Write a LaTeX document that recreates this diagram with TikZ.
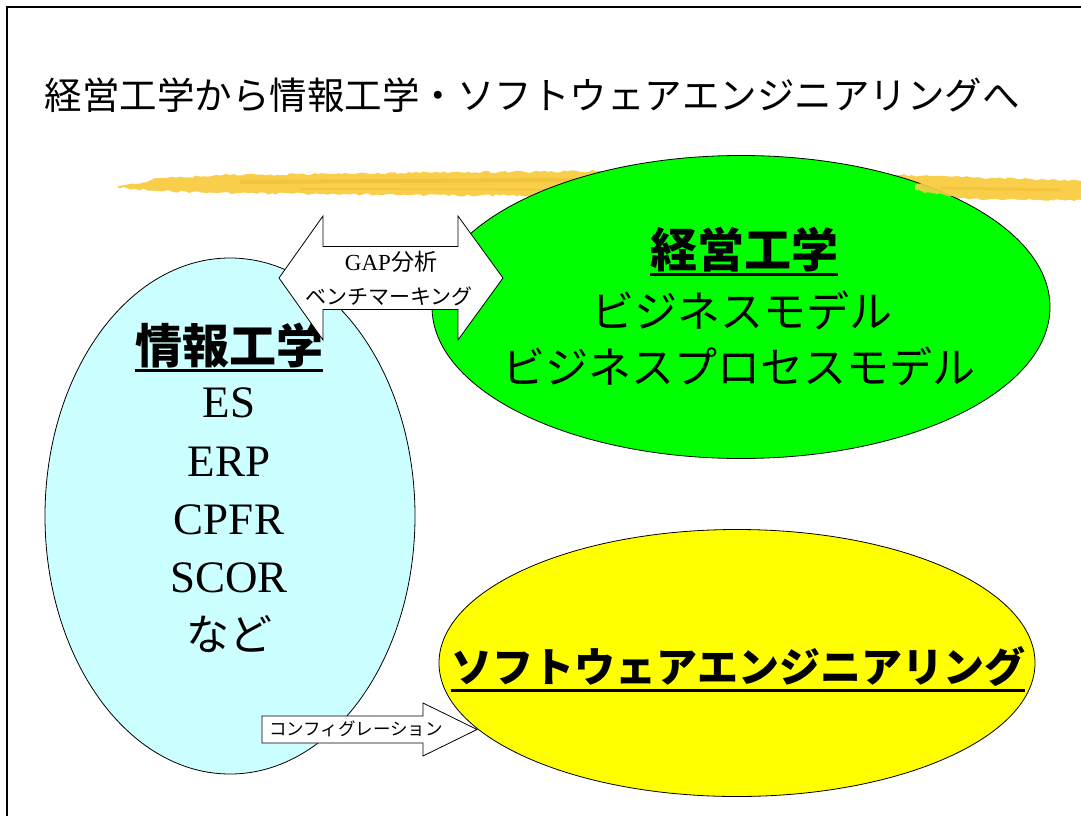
\documentclass[tikz,border=0pt]{standalone}
\usepackage{fontspec}
\setmainfont{Liberation Serif}
\newfontfamily\jp{Noto Sans CJK JP}
\usetikzlibrary{shapes.geometric,decorations.pathmorphing}

\definecolor{johocyan}{RGB}{204,255,255}
\definecolor{keieigreen}{RGB}{0,255,0}
\definecolor{softyellow}{RGB}{255,255,0}
\definecolor{brush}{RGB}{248,206,74}
\definecolor{brushdark}{RGB}{238,184,40}

\begin{document}
\begin{tikzpicture}[x=1pt,y=-1pt,
    blob/.style={ellipse,draw=black,line width=0.8pt,inner sep=0pt},
    blockarrow/.style={draw=black,fill=white,line width=0.8pt,line join=miter},
    rough/.style={decorate,decoration={random steps,segment length=4pt,amplitude=1.2pt}},
    uline/.style={line width=3pt},
    jp/.style={inner sep=0pt,font=\jp\fontsize{#1}{#1}\selectfont},
    jpb/.style={inner sep=0pt,font=\jp\bfseries\fontsize{#1}{#1}\selectfont},
    rm/.style={inner sep=0pt,font=\fontsize{#1}{#1}\selectfont}]

    \useasboundingbox (0,0) rectangle (1081,816);

    % slide frame, only top and left edges are visible
    \draw[line width=2pt] (7,816) -- (7,7) -- (1081,7);

    % Title
    \node[jp=37.5] (title) at (532,95) {経営工学から情報工学・ソフトウェアエンジニアリングへ};

    % brush stroke
    \fill[brush,rough] (117,187) -- (135,184) -- (160,178) -- (230,175) -- (400,173)
        -- (600,171) -- (800,173) -- (930,176) -- (1081,181) -- (1081,200) -- (930,198)
        -- (800,197) -- (600,196) -- (400,195) -- (230,193) -- (160,191) -- (135,189) -- cycle;
    \draw[brushdark,line width=4pt,opacity=0.45] (240,182) -- (560,180) -- (900,186);
    \draw[brushdark,line width=2pt,opacity=0.35] (300,189) -- (700,190);

    % the three fields
    \node[blob,fill=johocyan,minimum width=370,minimum height=516] (johoarea) at (230,516) {};
    \node[blob,fill=keieigreen,minimum width=618,minimum height=303] (keieiarea) at (741,307) {};
    \node[blob,fill=softyellow,minimum width=596,minimum height=267] (softarea) at (737,663) {};

    % tail of the stroke runs over the green field
    \fill[brush,rough,opacity=0.9] (915,185) -- (960,177) -- (1081,181) -- (1081,200)
        -- (960,198) -- (915,190) -- cycle;
    \draw[brushdark,line width=3pt,opacity=0.4] (940,188) -- (1060,190);

    % 経営工学
    \node[jpb=47] (keiei) at (744,250) {経営工学};
    \draw[uline] (keiei.west |- 0,274) -- (keiei.east |- 0,274);
    \node[jp=43] (bm) at (742,310) {ビジネスモデル};
    \node[jp=43] (bpm) at (739,366) {ビジネスプロセスモデル};

    % 情報工学
    \node[jpb=47] (joho) at (229,346) {情報工学};
    \draw[uline] (joho.west |- 0,370) -- (joho.east |- 0,370);
    \node[rm=45] (es) at (229,403) {ES};
    \node[rm=45] (erp) at (229,462) {ERP};
    \node[rm=45] (cpfr) at (229,520) {CPFR};
    \node[rm=45] (scor) at (229,578) {SCOR};
    \node[jp=43] (nado) at (229,634) {など};

    % ソフトウェアエンジニアリング
    \node[jpb=41] (soft) at (738,667) {ソフトウェアエンジニアリング};
    \draw[uline] (soft.west |- 0,690) -- (soft.east |- 0,690);

    % GAP double arrow between 情報工学 and 経営工学
    \draw[blockarrow] (279,278) -- (323,216) -- (323,246.5) -- (458,246.5) -- (458,216)
        -- (503,278) -- (458,340) -- (458,309.5) -- (323,309.5) -- (323,340) -- cycle;
    \node[rm=23] (gap) at (391,262) {GAP{\jp 分析}};
    \node[jp=21] (bench) at (389,296) {ベンチマーキング};

    % configuration arrow into the yellow field
    \draw[blockarrow] (262,716) -- (423,716) -- (423,703) -- (477,729.5) -- (423,756)
        -- (423,743) -- (262,743) -- cycle;
    \node[jp=17.5] (config) at (356,729) {コンフィグレーション};
\end{tikzpicture}
\end{document}
